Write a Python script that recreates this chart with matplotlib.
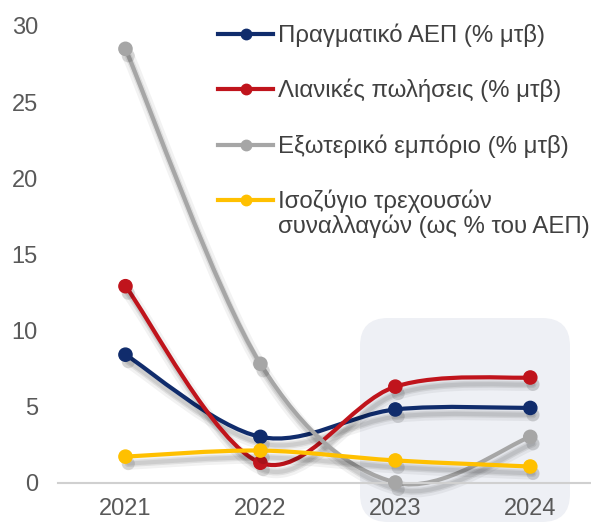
import matplotlib
matplotlib.use("Agg")
import matplotlib.pyplot as plt
import matplotlib.patheffects as pe
from matplotlib.path import Path
from matplotlib.patches import PathPatch, FancyBboxPatch
from matplotlib.lines import Line2D
import numpy as np

plt.rcParams['font.family'] = ['Liberation Sans', 'DejaVu Sans']

years = ['2021', '2022', '2023', '2024']
real_gdp = [8.4, 3.0, 4.8, 4.9]
retail = [12.9, 1.3, 6.3, 6.9]
trade = [28.5, 7.8, 0.0, 3.0]
current_acc = [1.7, 2.1, 1.45, 1.05]

labels = ['Πραγματικό ΑΕΠ (% μτβ)',
          'Λιανικές πωλήσεις (% μτβ)',
          'Εξωτερικό εμπόριο (% μτβ)',
          'Ισοζύγιο τρεχουσών']
label_cont = 'συναλλαγών (ως % του ΑΕΠ)'
colors = ['#102C6C', '#C0141C', '#A6A6A6', '#FFC000']
series = [real_gdp, retail, trade, current_acc]


def smooth_path(x, y):
    # Excel-like smoothed line: Catmull-Rom segments as cubic Beziers
    pts = np.column_stack([x, y]).astype(float)
    n = len(pts)
    verts = [pts[0]]
    codes = [Path.MOVETO]
    for i in range(n - 1):
        p0 = pts[i - 1] if i > 0 else pts[i]
        p1 = pts[i]
        p2 = pts[i + 1]
        p3 = pts[i + 2] if i + 2 < n else pts[i + 1]
        c1 = p1 + (p2 - p0) / 6
        c2 = p2 - (p3 - p1) / 6
        verts += [c1, c2, p2]
        codes += [Path.CURVE4] * 3
    return Path(verts, codes)


fig = plt.figure(figsize=(5.91, 5.25), dpi=100)

# shaded highlight box behind 2023-2024
box = FancyBboxPatch((3.60, 0.03), 2.10, 2.04,
                     boxstyle="round,pad=0,rounding_size=0.28",
                     transform=fig.dpi_scale_trans, facecolor='#EEF0F5',
                     edgecolor='none', zorder=-1)
fig.add_artist(box)

ax = fig.add_axes([58 / 591, 42.5 / 525, 1 - 58 / 591, (482.5 - 26) / 525])
ax.set_facecolor('none')

x = np.arange(len(years))
# soft drop shadow, a few stacked layers to fake a blur
line_fx = [pe.SimpleLineShadow(offset=(2, -5), shadow_color='k', alpha=0.05, linewidth=9),
           pe.SimpleLineShadow(offset=(2, -5), shadow_color='k', alpha=0.08, linewidth=5),
           pe.SimpleLineShadow(offset=(2, -5), shadow_color='k', alpha=0.08, linewidth=3),
           pe.Normal()]
mark_fx = [pe.SimplePatchShadow(offset=(2, -5), shadow_rgbFace='k', alpha=0.12), pe.Normal()]
for vals, col in zip(series, colors):
    patch = PathPatch(smooth_path(x, vals), facecolor='none', edgecolor=col,
                      lw=3, capstyle='round', joinstyle='round', zorder=2)
    patch.set_path_effects(line_fx)
    patch.set_clip_on(False)
    ax.add_patch(patch)
    ax.plot(x, vals, 'o', color=col, ms=9.5, zorder=3, clip_on=False,
            path_effects=mark_fx)

ax.set_xlim(-0.5, 3.45)
ax.set_ylim(0, 30)
ax.set_xticks(x)
ax.set_xticklabels(years)
ax.set_yticks(range(0, 31, 5))

for s in ['top', 'right', 'left']:
    ax.spines[s].set_visible(False)
ax.spines['bottom'].set_color('#D0D0D0')
ax.spines['bottom'].set_linewidth(1.5)
ax.tick_params(axis='y', length=0, pad=14.5, labelsize=17, labelcolor='#595959')
ax.tick_params(axis='x', length=0, pad=11, labelsize=17, labelcolor='#595959')

handles = [Line2D([0], [0], color=c, lw=3, marker='o', ms=7.5) for c in colors]
leg = ax.legend(handles, labels, loc='upper left', bbox_to_anchor=(218 / 591, 1 - 23.5 / 525),
                bbox_transform=fig.transFigure, frameon=False, fontsize=17.3,
                handlelength=2.3, handletextpad=0.2, labelspacing=1.33,
                borderpad=0, borderaxespad=0)
for t in leg.get_texts():
    t.set_color('#404040')

# second line of the last legend entry, aligned under its first line
fig.canvas.draw()
bb = leg.get_texts()[3].get_window_extent()
fig.text(bb.x0, (bb.y0 + bb.y1) / 2 - 25, label_cont, transform=None,
         va='center', ha='left', fontsize=17.3, color='#404040')

fig.savefig('out.png', dpi=100)
